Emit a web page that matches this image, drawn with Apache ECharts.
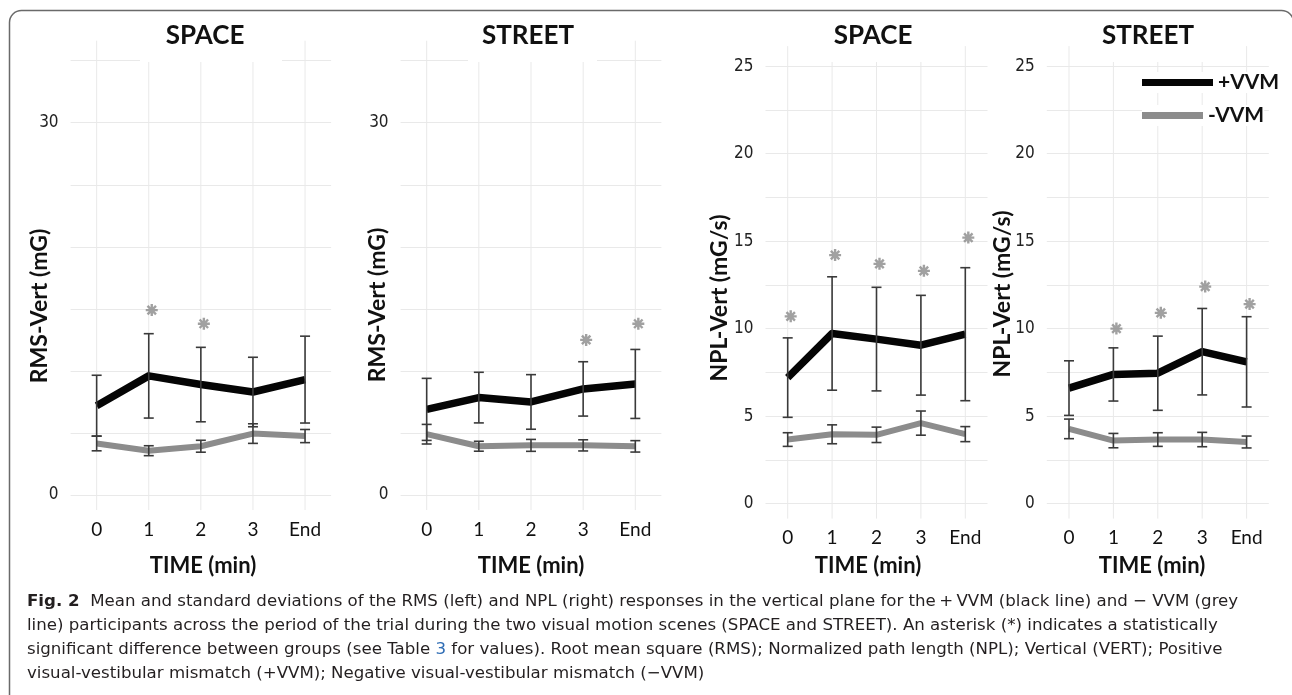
<!DOCTYPE html>
<html><head><meta charset="utf-8">
<script src="https://cdn.jsdelivr.net/npm/echarts@6/dist/echarts.min.js"></script>
<style>html,body{margin:0;padding:0;background:#fff}#c{width:1292px;height:695px}</style>
</head><body><div id="c"></div>
<script>
// ---------------- DATA ----------------
const categories = ['0', '1', '2', '3', 'End'];
const rmsTickLabels = [0, 30];
const nplTickLabels = [0, 5, 10, 15, 20, 25];

// RMS - SPACE
const rmsSpacePosMean = [7.2, 9.6, 8.9, 8.3, 9.3];
const rmsSpacePosSd   = [2.45, 3.4, 3.0, 2.8, 3.5];
const rmsSpaceNegMean = [4.15, 3.57, 3.93, 4.95, 4.75];
const rmsSpaceNegSd   = [0.59, 0.40, 0.48, 0.79, 0.53];
const rmsSpaceStar    = [null, 14.9, 13.8, null, null];
// RMS - STREET
const rmsStreetPosMean = [6.9, 7.85, 7.5, 8.55, 8.95];
const rmsStreetPosSd   = [2.5, 2.04, 2.2, 2.19, 2.78];
const rmsStreetNegMean = [4.9, 3.93, 4.0, 4.0, 3.92];
const rmsStreetNegSd   = [0.79, 0.40, 0.48, 0.45, 0.46];
const rmsStreetStar    = [null, null, null, 12.5, 13.8];
// NPL - SPACE
const nplSpacePosMean = [7.2, 9.72, 9.4, 9.05, 9.68];
const nplSpacePosSd   = [2.27, 3.24, 2.96, 2.85, 3.8];
const nplSpaceNegMean = [3.66, 3.96, 3.93, 4.6, 3.97];
const nplSpaceNegSd   = [0.39, 0.54, 0.44, 0.69, 0.43];
const nplSpaceStar    = [10.7, 14.2, 13.7, 13.3, 15.2];
// NPL - STREET
const nplStreetPosMean = [6.6, 7.38, 7.45, 8.68, 8.1];
const nplStreetPosSd   = [1.56, 1.52, 2.12, 2.47, 2.58];
const nplStreetNegMean = [4.27, 3.6, 3.66, 3.66, 3.52];
const nplStreetNegSd   = [0.56, 0.41, 0.39, 0.41, 0.34];
const nplStreetStar    = [null, 10.0, 10.9, 12.4, 11.4];

const captionLines = [
  '  Mean and standard deviations of the RMS (left) and NPL (right) responses in the vertical plane for the\u2009+\u2009VVM (black line) and \u2212 VVM (grey',
  'line) participants across the period of the trial during the two visual motion scenes (SPACE and STREET). An asterisk (*) indicates a statistically',
  'significant difference between groups (see Table ',
  ' for values). Root mean square (RMS); Normalized path length (NPL); Vertical (VERT); Positive',
  'visual-vestibular mismatch (+VVM); Negative visual-vestibular mismatch (\u2212VVM)'
];

// ---------------- LAYOUT / STYLE ----------------
const FONT = 'Lato, "Open Sans", sans-serif';
const NARROW = '"Liberation Sans Narrow", "DejaVu Sans Condensed", "Liberation Sans", sans-serif';
const CAPFONT = '"DejaVu Sans", "Open Sans", sans-serif';

const panels = [
  {title: 'SPACE',  yTitle: 'RMS-Vert (mG)', grid: {left: 70.6, top: 60.7, width: 260.5, height: 434.3},
   max: 35, interval: 5, ticks: rmsTickLabels, posM: rmsSpacePosMean, posS: rmsSpacePosSd, negM: rmsSpaceNegMean, negS: rmsSpaceNegSd, star: rmsSpaceStar,
   titleX: 205, yTitleX: 40, yTitleY: 306, timeX: 203, box: [140, 282]},
  {title: 'STREET', yTitle: 'RMS-Vert (mG)', grid: {left: 400.6, top: 60.7, width: 260.8, height: 434.3},
   max: 35, interval: 5, ticks: rmsTickLabels, posM: rmsStreetPosMean, posS: rmsStreetPosSd, negM: rmsStreetNegMean, negS: rmsStreetNegSd, star: rmsStreetStar,
   titleX: 528, yTitleX: 378, yTitleY: 305, timeX: 531, box: [468, 597]},
  {title: 'SPACE',  yTitle: 'NPL-Vert (mG/s)', grid: {left: 765.5, top: 66.1, width: 222, height: 437.5},
   max: 25, interval: 2.5, ticks: nplTickLabels, posM: nplSpacePosMean, posS: nplSpacePosSd, negM: nplSpaceNegMean, negS: nplSpaceNegSd, star: nplSpaceStar,
   titleX: 873, yTitleX: 720, yTitleY: 298, timeX: 868, box: [817, 923]},
  {title: 'STREET', yTitle: 'NPL-Vert (mG/s)', grid: {left: 1046.8, top: 66.1, width: 222, height: 437.5},
   max: 25, interval: 2.5, ticks: nplTickLabels, posM: nplStreetPosMean, posS: nplStreetPosSd, negM: nplStreetNegMean, negS: nplStreetNegSd, star: nplStreetStar,
   titleX: 1148, yTitleX: 1003, yTitleY: 294, timeX: 1152, box: [1097, 1203]}
];

function starPath() {
  let d = '';
  const w = 0.2;
  for (let k = 0; k < 4; k++) {
    const a = k * Math.PI / 4, c = Math.cos(a), s = Math.sin(a);
    const nx = -s * w, ny = c * w;
    const p = [[-c + nx, -s + ny], [c + nx, s + ny], [c - nx, s - ny], [-c - nx, -s - ny]];
    d += 'M' + p.map(q => q[0].toFixed(3) + ',' + q[1].toFixed(3)).join('L') + 'Z';
  }
  return 'path://' + d;
}
const STAR = starPath();

function errSeries(name, gi, means, sds) {
  return {
    type: 'custom', name: name, xAxisIndex: gi, yAxisIndex: gi, z: 4, silent: true,
    data: means.map((m, i) => [i, m - sds[i], m + sds[i]]),
    renderItem: function (params, api) {
      const lo = api.coord([api.value(0), api.value(1)]);
      const hi = api.coord([api.value(0), api.value(2)]);
      const w = 5;
      const st = {stroke: '#3a3a3a', lineWidth: 1.6};
      return {type: 'group', children: [
        {type: 'line', shape: {x1: hi[0], y1: hi[1], x2: lo[0], y2: lo[1]}, style: st},
        {type: 'line', shape: {x1: hi[0] - w, y1: hi[1], x2: hi[0] + w, y2: hi[1]}, style: st},
        {type: 'line', shape: {x1: lo[0] - w, y1: lo[1], x2: lo[0] + w, y2: lo[1]}, style: st}
      ]};
    }
  };
}

function vGridSeries(gi, extTop, extBottom) {
  return {
    type: 'custom', xAxisIndex: gi, yAxisIndex: gi, z: 1, silent: true,
    data: categories.map((c, i) => [i, 0]),
    renderItem: function (params, api) {
      const p = api.coord([api.value(0), 0]);
      const cs = params.coordSys;
      return {type: 'line', shape: {x1: p[0], y1: cs.y - extTop, x2: p[0], y2: cs.y + cs.height + extBottom},
              style: {stroke: '#e9e9e9', lineWidth: 1}};
    }
  };
}

const grids = [], xAxes = [], yAxes = [], series = [], graphics = [];

panels.forEach((p, gi) => {
  grids.push(Object.assign({containLabel: false}, p.grid));
  xAxes.push({
    type: 'category', gridIndex: gi, data: categories, boundaryGap: true,
    axisLine: {show: false}, axisTick: {show: false}, splitLine: {show: false},
    axisLabel: {margin: 25, fontFamily: FONT, fontSize: 19, color: '#111'}
  });
  yAxes.push({
    type: 'value', gridIndex: gi, min: 0, max: p.max, interval: p.interval,
    axisLine: {show: false}, axisTick: {show: false},
    splitLine: {show: true, lineStyle: {color: '#e9e9e9', width: 1}},
    axisLabel: {margin: 12, fontFamily: NARROW, fontSize: 17, color: '#222',
      formatter: (v) => p.ticks.includes(v) ? String(v) : ''}
  });
  series.push(vGridSeries(gi, 20, 15));
  series.push({
    type: 'line', name: '-VVM', xAxisIndex: gi, yAxisIndex: gi, data: p.negM, z: 2,
    symbol: 'none', showSymbol: false, silent: true,
    lineStyle: {color: '#8c8c8c', width: 6, join: 'round'}, itemStyle: {color: '#8c8c8c'}
  });
  series.push({
    type: 'line', name: '+VVM', xAxisIndex: gi, yAxisIndex: gi, data: p.posM, z: 3,
    symbol: 'none', showSymbol: false, silent: true,
    lineStyle: {color: '#050505', width: 7.5, join: 'round'}, itemStyle: {color: '#050505'}
  });
  series.push(errSeries('-VVM SD', gi, p.negM, p.negS));
  series.push(errSeries('+VVM SD', gi, p.posM, p.posS));
  series.push({
    type: 'scatter', name: 'significant', xAxisIndex: gi, yAxisIndex: gi, z: 5, silent: true,
    symbol: STAR, symbolSize: 12, symbolOffset: [3, 0],
    itemStyle: {color: '#8a8a8a'},
    data: p.star.map((v, i) => v == null ? null : [i, v]).filter(d => d)
  });

  // white box behind panel title
  graphics.push({type: 'rect', z: 5, silent: true,
    shape: {x: p.box[0], y: 13, width: p.box[1] - p.box[0], height: 49}, style: {fill: '#fff'}});
  graphics.push({type: 'text', z: 6, x: p.titleX, y: 36, silent: true,
    style: {text: p.title, fontFamily: FONT, fontWeight: 'bold', fontSize: 26, fill: '#111', align: 'center', verticalAlign: 'middle'}});
  graphics.push({type: 'text', z: 6, x: p.yTitleX, y: p.yTitleY, rotation: Math.PI / 2, silent: true,
    style: {text: p.yTitle, fontFamily: FONT, fontWeight: 'bold', fontSize: 23, fill: '#111', align: 'center', verticalAlign: 'middle'}});
  graphics.push({type: 'text', z: 6, x: p.timeX, y: 566, silent: true,
    style: {text: 'TIME (min)', fontFamily: FONT, fontWeight: 'bold', fontSize: 22, fill: '#111', align: 'center', verticalAlign: 'middle'}});
});

// frame
graphics.push({type: 'rect', z: 0, silent: true,
  shape: {x: 9.5, y: 10.5, width: 1284, height: 800, r: 12},
  style: {fill: 'none', stroke: '#6a6a6a', lineWidth: 1.5}});

// caption: fit font size so that first line spans the reference width
const ctx = document.createElement('canvas').getContext('2d');
ctx.font = 'bold 100px ' + CAPFONT;
const wb = ctx.measureText('Fig. 2').width;
ctx.font = '100px ' + CAPFONT;
const wr = ctx.measureText(captionLines[0]).width;
const capSize = Math.max(13, Math.min(19, 100 * 1212 / (wb + wr)));
const capRich = {
  b: {fontFamily: CAPFONT, fontWeight: 'bold', fontSize: capSize, fill: '#231f20'},
  n: {fontFamily: CAPFONT, fontSize: capSize, fill: '#231f20'},
  l: {fontFamily: CAPFONT, fontSize: capSize, fill: '#2f6db5'}
};
const capTexts = [
  '{b|Fig. 2}{n|' + captionLines[0] + '}',
  '{n|' + captionLines[1] + '}',
  '{n|' + captionLines[2] + '}{l|3}{n|' + captionLines[3] + '}',
  '{n|' + captionLines[4] + '}'
];
const capY = [601.5, 626, 650, 673.5];
capTexts.forEach((t, i) => {
  graphics.push({type: 'text', z: 6, x: 27, y: capY[i], silent: true,
    style: {text: t, rich: capRich, fontFamily: CAPFONT, fontSize: capSize, fill: '#231f20', align: 'left', verticalAlign: 'middle'}});
});

const legendBase = {
  orient: 'vertical', icon: 'rect', padding: 0, backgroundColor: '#fff', selectedMode: false,
  itemStyle: {borderWidth: 0},
  textStyle: {fontFamily: FONT, fontWeight: 'bold', fontSize: 21, color: '#111'}
};

const chart = echarts.init(document.getElementById('c'), null, {renderer: 'canvas'});
chart.setOption({
  animation: false,
  backgroundColor: '#fff',
  grid: grids,
  xAxis: xAxes,
  yAxis: yAxes,
  legend: [
    Object.assign({}, legendBase, {data: ['+VVM'], left: 1142, top: 72, itemWidth: 71, itemHeight: 7}),
    Object.assign({}, legendBase, {data: ['-VVM'], left: 1142, top: 105, itemWidth: 61, itemHeight: 7})
  ],
  series: series,
  graphic: {elements: graphics}
});
</script>
</body></html>
